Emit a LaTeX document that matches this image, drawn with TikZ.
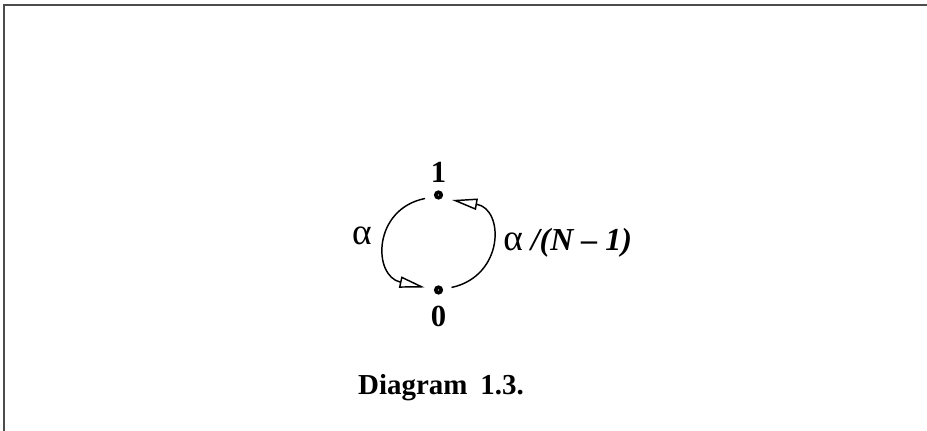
\documentclass[tikz,border=0pt]{standalone}
\usepackage{fontspec}
\setmainfont{Liberation Serif}
\usetikzlibrary{arrows.meta,calc}
\newcommand{\alphabig}{{\fontsize{28}{30}\selectfont\mdseries α}}
\begin{document}
\begin{tikzpicture}[x=0.75pt,y=0.75pt,
  dotnode/.style={circle, fill=black, inner sep=0pt, minimum size=7pt,
    path picture={\fill[white] (path picture bounding box.center) circle (0.45pt);}},
  lbl/.style={font=\fontsize{23}{27}\selectfont\bfseries, inner sep=0pt, anchor=base},
  conn/.style={line width=1.1pt, -{Triangle[open, length=19pt, width=8.5pt]}},
  frame/.style={line width=1pt, black!70}]
\useasboundingbox (0,0) rectangle (927,431);
\draw[frame] (927,426) -- (4,426) -- (4,0);
\node[dotnode] (n1) at (438.5,236) {};
\node[dotnode] (n0) at (438.5,141) {};
\node[lbl] (l1) at (438.5,248) {1};
\node[lbl] (l0) at (438.5,104) {0};
\node[lbl] (la) at (362,186) {\alphabig};
\node[lbl, anchor=base west, font=\fontsize{24}{28}\selectfont\bfseries] (lb) at (503,180) {\alphabig\ \textit{/(N – 1)}};
\node[lbl, font=\fontsize{21.7}{26}\selectfont\bfseries] (cap) at (441,36) {Diagram\hspace{0.45em}1.3.};
\draw[conn] ($(n1)+(-13.5,-3.5)$) .. controls ($(n1)+(-66,-14)$) and ($(n0)+(-66,14)$) .. ($(n0)+(-13.7,2.5)$);
\draw[conn] ($(n0)+(13,2.5)$) .. controls ($(n0)+(66,14)$) and ($(n1)+(66,-14)$) .. ($(n1)+(13.5,-5)$);
\end{tikzpicture}
\end{document}
